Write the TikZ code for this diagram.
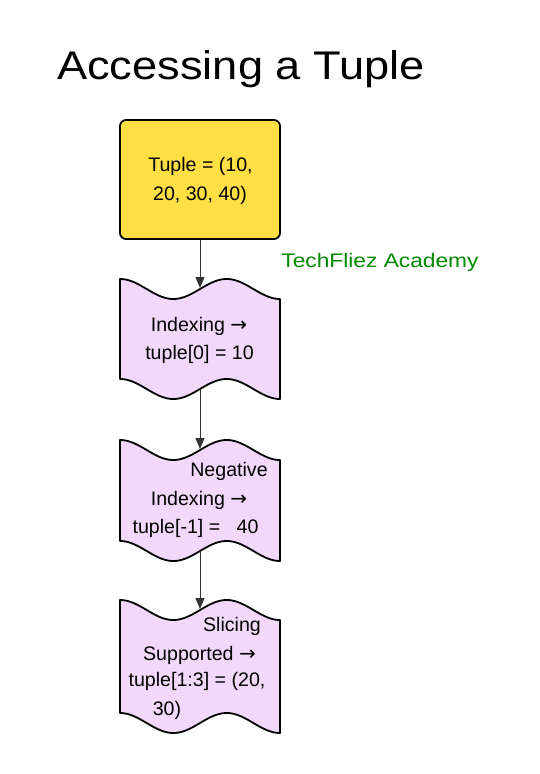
\documentclass[tikz,border=0pt]{standalone}
\usepackage{fontspec}
\setmainfont{Liberation Sans}
\newfontfamily\arrowfont{DejaVu Sans}
\usetikzlibrary{arrows.meta}
\definecolor{boxyellow}{HTML}{FFDF44}
\definecolor{wavepink}{HTML}{F2D9FC}
\definecolor{edgegray}{HTML}{333333}
\definecolor{brandgreen}{HTML}{008A00}
\newcommand{\rarr}{{\arrowfont\fontsize{20}{28}\selectfont →}}
\tikzset{
  txt/.style={anchor=base, inner sep=0pt, font=\fontsize{19.6}{28}\selectfont},
  startbox/.style={draw=black, line width=1.8pt, fill=boxyellow, rounded corners=6pt,
    minimum width=160pt, minimum height=119pt, inner sep=0pt},
  waveshape/.style={draw=black, line width=1.8pt, fill=wavepink, line join=round},
  flow/.style={draw=edgegray, line width=1pt, -{Triangle[length=11pt,width=9pt]}}
}
\newcommand{\wavebox}[3]{%
  \draw[waveshape] plot[domain=0:160, samples=80, smooth, variable=\t]
      ({#1+\t}, {#2-10*cos(\t/106.7*360)})
    -- plot[domain=160:0, samples=80, smooth, variable=\t]
      ({#1+\t}, {#3-10*cos(\t/106.7*360)})
    -- cycle;}
\begin{document}
\begin{tikzpicture}[x=1pt, y=-1pt]
\useasboundingbox (0,0) rectangle (540,774);

% title
\node[anchor=base west, inner sep=0pt, font=\fontsize{40}{48}\selectfont] (title) at (57,79.3)
  {\scalebox{1.13}[1]{Accessing a Tuple}};

% start box
\node[startbox] (start) at (200,179.5) {};
\node[txt] (s1) at (200.5,171.7) {Tuple = (10,};
\node[txt] (s2) at (200,200) {20, 30, 40)};

% watermark
\node[anchor=base, inner sep=0pt, text=brandgreen, font=\fontsize{19.6}{24}\selectfont] (brand) at (380,267.3)
  {\scalebox{1.16}[1]{TechFliez Academy}};

% wave shapes
\wavebox{120}{289}{389}
\wavebox{120}{450}{551}
\wavebox{120}{610}{723}

\coordinate (w1in) at (200,288);
\coordinate (w1out) at (200,389);
\coordinate (w2in) at (200,449);
\coordinate (w2out) at (200,551);
\coordinate (w3in) at (200,609);

% wave 1 text
\node[txt] (a1) at (199,331.7) {Indexing \rarr};
\node[txt] (a2) at (199.5,359.3) {tuple[0] = 10};

% wave 2 text
\node[txt] (b1) at (229,476.7) {Negative};
\node[txt] (b2) at (199,505) {Indexing \rarr};
\node[txt] (b3) at (195.5,533.3) {tuple[-1] =\ \ \ 40};

% wave 3 text
\node[txt] (c1) at (232,631.7) {Slicing};
\node[txt] (c2) at (199.5,660) {Supported \rarr};
\node[txt] (c3) at (197,686.7) {tuple[1:3] = (20,};
\node[txt] (c4) at (167,715) {30)};

% connectors
\draw[flow] (start.south) -- (w1in);
\draw[flow] (w1out) -- (w2in);
\draw[flow] (w2out) -- (w3in);
\end{tikzpicture}
\end{document}
